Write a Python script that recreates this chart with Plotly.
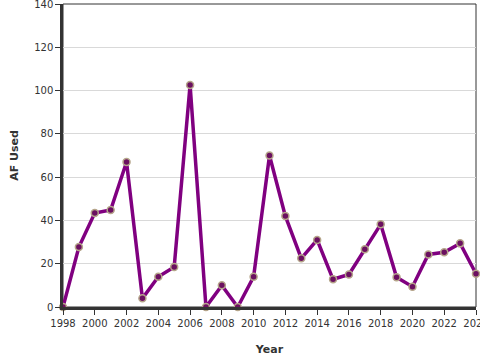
import plotly.graph_objects as go

years = list(range(1998, 2025))
af_used = [0, 27.7, 43.4, 44.8, 67, 4, 14, 18.5, 102.6, 0, 10, 0, 14, 70, 42,
           22.5, 31, 12.8, 15, 26.7, 38.2, 13.7, 9.4, 24.3, 25.3, 29.4, 15.4]
x_ticks = list(range(1998, 2025, 2))
y_ticks = list(range(0, 141, 20))

fig = go.Figure(go.Scatter(
    x=years, y=af_used, mode="lines+markers",
    line=dict(color="#800080", width=3.5),
    marker=dict(size=7, color="#6b1060", line=dict(color="#b5a58a", width=1.5)),
    cliponaxis=False,
))

fig.update_layout(
    width=480, height=360,
    margin=dict(l=63, r=4, t=4, b=53, autoexpand=False),
    paper_bgcolor="white", plot_bgcolor="white",
    font=dict(family="DejaVu Sans", size=10, color="#333"),
    showlegend=False,
    shapes=[dict(type="rect", xref="paper", yref="paper", x0=0, x1=1, y0=0, y1=1,
                 line=dict(color="#333", width=1), layer="below")],
)
fig.update_xaxes(
    range=[1998, 2024], tickvals=x_ticks, ticks="outside", ticklen=5,
    tickcolor="#333", showline=True, linecolor="#333", linewidth=2.5,
    showgrid=False, zeroline=False, ticklabeloverflow="allow", automargin=False,
    title=dict(text="<b>Year</b>", font=dict(size=11, color="#333"), standoff=18),
)
fig.update_yaxes(
    range=[0, 140], tickvals=y_ticks, ticks="outside", ticklen=5,
    tickcolor="#333", showline=True, linecolor="#333", linewidth=2.5,
    showgrid=True, gridcolor="#d9d9d9", gridwidth=1, zeroline=False,
    ticklabeloverflow="allow", automargin=False,
    title=dict(text="<b>AF Used</b>", font=dict(size=11, color="#333"), standoff=14),
)

fig.write_html("out.html", config={"displayModeBar": False})
with open("out.html", encoding="utf-8") as f:
    html = f.read()
html = html.replace("<head>", "<head><style>html,body{margin:0;padding:0;overflow:hidden;}</style>", 1)
with open("out.html", "w", encoding="utf-8") as f:
    f.write(html)
